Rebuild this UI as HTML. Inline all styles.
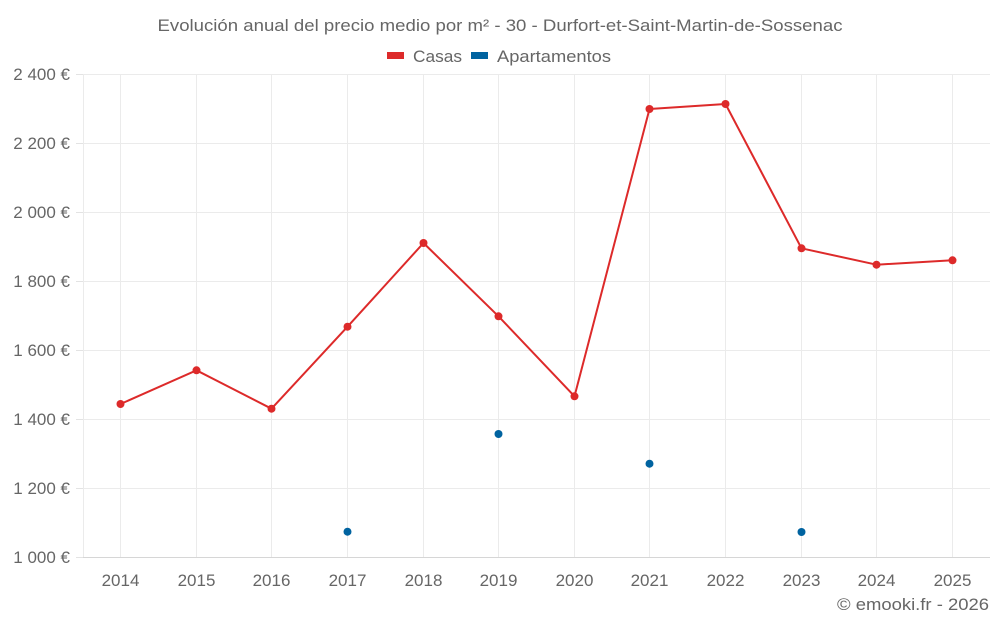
<!DOCTYPE html>
<html><head><meta charset="utf-8"><style>
html,body{margin:0;padding:0;background:#fff;}
svg{display:block;}
text{font-family:"Liberation Sans",Arial,sans-serif;fill:#666;}
</style></head><body>
<svg width="1000" height="625" viewBox="0 0 1000 625" xmlns="http://www.w3.org/2000/svg">
<rect width="1000" height="625" fill="#fff"/>
<text x="500" y="31" font-size="17" text-anchor="middle" textLength="685" lengthAdjust="spacingAndGlyphs">Evolución anual del precio medio por m² - 30 - Durfort-et-Saint-Martin-de-Sossenac</text>
<rect x="387" y="52" width="17" height="7" fill="#dd2a2a"/>
<text x="413" y="62" font-size="17" textLength="49" lengthAdjust="spacingAndGlyphs">Casas</text>
<rect x="471" y="52" width="17" height="7" fill="#0063a0"/>
<text x="497" y="62" font-size="17" textLength="114" lengthAdjust="spacingAndGlyphs">Apartamentos</text>
<g stroke="#ebebeb" stroke-width="1">
<line x1="83" y1="74.5" x2="990" y2="74.5"/>
<line x1="83" y1="143.5" x2="990" y2="143.5"/>
<line x1="83" y1="212.5" x2="990" y2="212.5"/>
<line x1="83" y1="281.5" x2="990" y2="281.5"/>
<line x1="83" y1="350.5" x2="990" y2="350.5"/>
<line x1="83" y1="419.5" x2="990" y2="419.5"/>
<line x1="83" y1="488.5" x2="990" y2="488.5"/>
<line x1="83.5" y1="74" x2="83.5" y2="557"/>
<line x1="120.5" y1="74" x2="120.5" y2="557"/>
<line x1="196.5" y1="74" x2="196.5" y2="557"/>
<line x1="271.5" y1="74" x2="271.5" y2="557"/>
<line x1="347.5" y1="74" x2="347.5" y2="557"/>
<line x1="423.5" y1="74" x2="423.5" y2="557"/>
<line x1="498.5" y1="74" x2="498.5" y2="557"/>
<line x1="574.5" y1="74" x2="574.5" y2="557"/>
<line x1="649.5" y1="74" x2="649.5" y2="557"/>
<line x1="725.5" y1="74" x2="725.5" y2="557"/>
<line x1="801.5" y1="74" x2="801.5" y2="557"/>
<line x1="876.5" y1="74" x2="876.5" y2="557"/>
<line x1="952.5" y1="74" x2="952.5" y2="557"/>
</g>
<g stroke="#e3e3e3" stroke-width="1">
<line x1="76" y1="74.5" x2="83" y2="74.5"/>
<line x1="76" y1="143.5" x2="83" y2="143.5"/>
<line x1="76" y1="212.5" x2="83" y2="212.5"/>
<line x1="76" y1="281.5" x2="83" y2="281.5"/>
<line x1="76" y1="350.5" x2="83" y2="350.5"/>
<line x1="76" y1="419.5" x2="83" y2="419.5"/>
<line x1="76" y1="488.5" x2="83" y2="488.5"/>
<line x1="76" y1="557.5" x2="83" y2="557.5"/>
</g>
<line x1="83" y1="557.5" x2="990" y2="557.5" stroke="#d6d6d6" stroke-width="1"/>
<g font-size="17" text-anchor="end">
<text x="70" y="80">2 400 €</text>
<text x="70" y="149">2 200 €</text>
<text x="70" y="218">2 000 €</text>
<text x="70" y="287">1 800 €</text>
<text x="70" y="356">1 600 €</text>
<text x="70" y="425">1 400 €</text>
<text x="70" y="494">1 200 €</text>
<text x="70" y="563">1 000 €</text>
</g>
<g font-size="17" text-anchor="middle">
<text x="120.5" y="586">2014</text>
<text x="196.5" y="586">2015</text>
<text x="271.5" y="586">2016</text>
<text x="347.5" y="586">2017</text>
<text x="423.5" y="586">2018</text>
<text x="498.5" y="586">2019</text>
<text x="574.5" y="586">2020</text>
<text x="649.5" y="586">2021</text>
<text x="725.5" y="586">2022</text>
<text x="801.5" y="586">2023</text>
<text x="876.5" y="586">2024</text>
<text x="952.5" y="586">2025</text>
</g>
<text x="989" y="610" font-size="17" text-anchor="end" textLength="152" lengthAdjust="spacingAndGlyphs">© emooki.fr - 2026</text>
<polyline fill="none" stroke="#dd2a2a" stroke-width="2" stroke-linejoin="round" points="120.5,404 196.5,370.3 271.5,408.7 347.5,326.7 423.5,243 498.5,316.3 574.5,396.3 649.5,109 725.5,104 801.5,248.3 876.5,264.7 952.5,260.3"/>
<g fill="#dd2a2a">
<circle cx="120.5" cy="404" r="4"/>
<circle cx="196.5" cy="370.3" r="4"/>
<circle cx="271.5" cy="408.7" r="4"/>
<circle cx="347.5" cy="326.7" r="4"/>
<circle cx="423.5" cy="243" r="4"/>
<circle cx="498.5" cy="316.3" r="4"/>
<circle cx="574.5" cy="396.3" r="4"/>
<circle cx="649.5" cy="109" r="4"/>
<circle cx="725.5" cy="104" r="4"/>
<circle cx="801.5" cy="248.3" r="4"/>
<circle cx="876.5" cy="264.7" r="4"/>
<circle cx="952.5" cy="260.3" r="4"/>
</g>
<g fill="#0063a0">
<circle cx="347.5" cy="531.7" r="4"/>
<circle cx="498.5" cy="434" r="4"/>
<circle cx="649.5" cy="463.7" r="4"/>
<circle cx="801.5" cy="532" r="4"/>
</g>
</svg>
</body></html>
